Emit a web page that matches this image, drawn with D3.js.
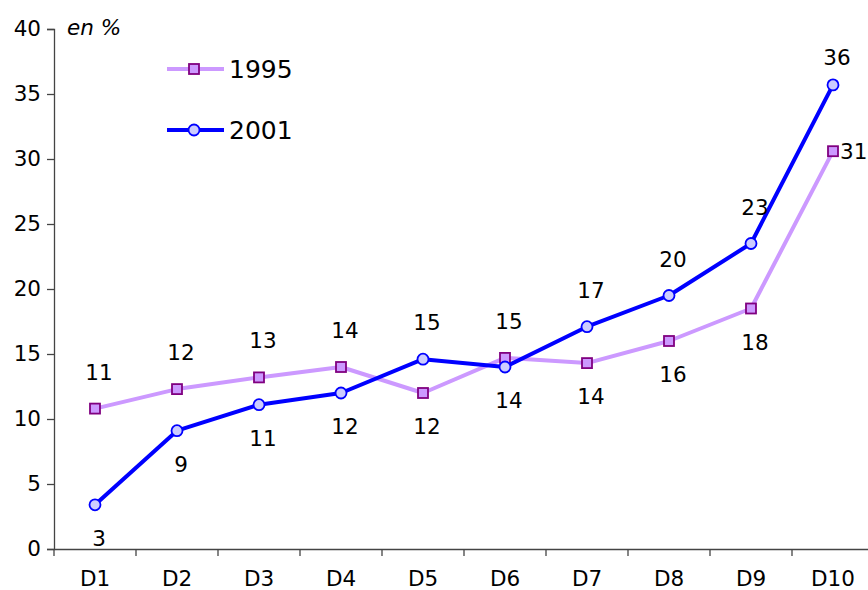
<!DOCTYPE html>
<html>
<head>
<meta charset="utf-8">
<script src="https://cdn.jsdelivr.net/npm/d3@7"></script>
<style>
  body { margin: 0; background: #fff; }
  text { font-family: "DejaVu Sans", Verdana, sans-serif; fill: #000; }
</style>
</head>
<body>
<div id="chart"></div>
<script>
const deciles = ["D1", "D2", "D3", "D4", "D5", "D6", "D7", "D8", "D9", "D10"];
const values1995 = [10.8, 12.3, 13.2, 14.0, 12.0, 14.7, 14.3, 16.0, 18.5, 30.6];
const values2001 = [3.4, 9.1, 11.1, 12.0, 14.6, 14.0, 17.1, 19.5, 23.5, 35.7];
const labels1995 = ["11", "12", "13", "14", "12", "15", "14", "16", "18", "31"];
const labels2001 = ["3", "9", "11", "12", "15", "14", "17", "20", "23", "36"];
const place1995 = ["above", "above", "above", "above", "below", "above", "below", "below", "below", "right"];
const place2001 = ["below", "below", "below", "below", "above", "below", "above", "above", "above", "above"];
const yTicks = [0, 5, 10, 15, 20, 25, 30, 35, 40];

const width = 868, height = 590;
const margin = { top: 29, right: -6, bottom: 41, left: 54 };
const fontSize = "21.5px";

const svg = d3.select("#chart").append("svg")
    .attr("width", width)
    .attr("height", height);

const x = d3.scaleBand()
    .domain(deciles)
    .range([margin.left, width - margin.right]);

const y = d3.scaleLinear()
    .domain([0, 40])
    .range([height - margin.bottom, margin.top]);

// + AXES
const yAxis = svg.append("g")
    .attr("transform", `translate(${margin.left},0)`)
    .call(d3.axisLeft(y).tickValues(yTicks).tickSize(7).tickPadding(6));
yAxis.select(".domain").attr("stroke", "#444").attr("stroke-width", 1.3);
yAxis.selectAll(".tick line").attr("stroke", "#444").attr("stroke-width", 1.3);
yAxis.selectAll("text").style("font-size", fontSize).attr("fill", "#000");

const xAxis = svg.append("g")
    .attr("transform", `translate(0,${y(0)})`)
    .call(d3.axisBottom(x).tickSize(0).tickPadding(22));
xAxis.select(".domain").attr("stroke", "#444").attr("stroke-width", 1.3);
xAxis.selectAll("text").style("font-size", fontSize).attr("fill", "#000");

// tick marks at band boundaries
xAxis.selectAll("line.sep")
    .data(deciles)
    .join("line")
    .attr("class", "sep")
    .attr("x1", d => x(d))
    .attr("x2", d => x(d))
    .attr("y1", 0)
    .attr("y2", 7)
    .attr("stroke", "#444")
    .attr("stroke-width", 1.3);

svg.append("text")
    .attr("x", 67)
    .attr("y", 35)
    .style("font-size", fontSize)
    .style("font-style", "italic")
    .text("en %");

const cx = d => x(d) + x.bandwidth() / 2;

const series = [
    { name: "1995", values: values1995, labels: labels1995, place: place1995,
      stroke: "#CC99FF", markFill: "#CC99FF", markStroke: "#800080", shape: "square" },
    { name: "2001", values: values2001, labels: labels2001, place: place2001,
      stroke: "#0000FF", markFill: "#CCCCFF", markStroke: "#0000FF", shape: "circle" }
];

const line = d3.line()
    .x((d, i) => cx(deciles[i]))
    .y(d => y(d));

function drawMarker(g, s, px, py) {
    if (s.shape === "square") {
        g.append("rect")
            .attr("x", px - 5).attr("y", py - 5)
            .attr("width", 10).attr("height", 10)
            .attr("fill", s.markFill)
            .attr("stroke", s.markStroke)
            .attr("stroke-width", 1.8);
    } else {
        g.append("circle")
            .attr("cx", px).attr("cy", py).attr("r", 5.5)
            .attr("fill", s.markFill)
            .attr("stroke", s.markStroke)
            .attr("stroke-width", 1.8);
    }
}

series.forEach(s => {
    const g = svg.append("g");
    g.append("path")
        .datum(s.values)
        .attr("fill", "none")
        .attr("stroke", s.stroke)
        .attr("stroke-width", 4)
        .attr("stroke-linejoin", "round")
        .attr("d", line);
    s.values.forEach((v, i) => drawMarker(g, s, cx(deciles[i]), y(v)));

    g.selectAll("text.lab")
        .data(s.values)
        .join("text")
        .attr("class", "lab")
        .style("font-size", fontSize)
        .attr("text-anchor", (d, i) => s.place[i] === "right" ? "start" : "middle")
        .attr("x", (d, i) => s.place[i] === "right" ? cx(deciles[i]) + 7 : cx(deciles[i]) + 4)
        .attr("y", (d, i) => {
            const py = y(d);
            // keep labels inside the plot area, like the spreadsheet does
            if (s.place[i] === "above") return Math.max(py - 29, margin.top + 36);
            if (s.place[i] === "below") return py + 41;
            return py + 8;
        })
        .text((d, i) => s.labels[i]);
});

// legend
const legend = svg.append("g");
series.forEach((s, i) => {
    const ly = 69 + i * 61;
    legend.append("line")
        .attr("x1", 167).attr("x2", 224)
        .attr("y1", ly).attr("y2", ly)
        .attr("stroke", s.stroke)
        .attr("stroke-width", 4);
    drawMarker(legend, s, 194, ly);
    legend.append("text")
        .attr("x", 229)
        .attr("y", ly + 9)
        .style("font-size", "25px")
        .text(s.name);
});
</script>
</body>
</html>
